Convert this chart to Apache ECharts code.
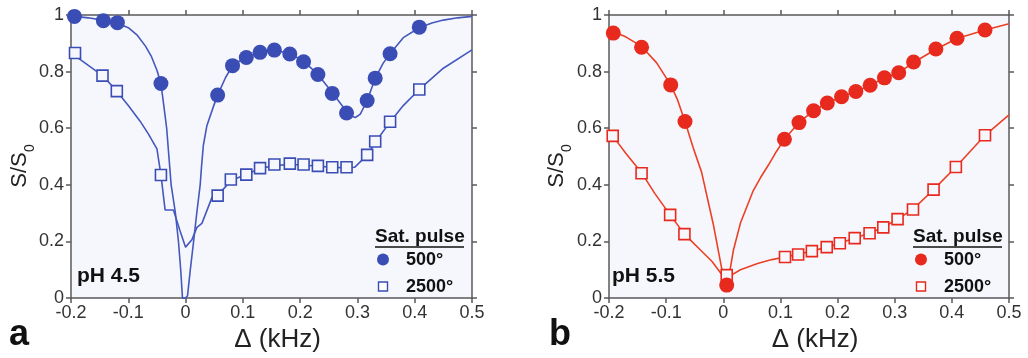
<!DOCTYPE html>
<html>
<head>
<meta charset="utf-8">
<script src="https://cdn.jsdelivr.net/npm/echarts@6/dist/echarts.min.js"></script>
<style>
html,body{margin:0;padding:0;background:#ffffff;}
#chart{width:1028px;height:358px;}
</style>
</head>
<body>
<div id="chart"></div>
<script>
// ---- Axis settings / tick labels ----
const xRange = [-0.2, 0.5];
const xStep = 0.1;
const yRange = [0, 1];
const yStep = 0.2;

// ---- Panel a: pH 4.5 ----
const a500Points = [[-0.194,0.995],[-0.1435,0.98],[-0.119,0.973],[-0.043,0.758],[0.056,0.717],[0.082,0.821],[0.106,0.850],[0.130,0.868],[0.155,0.876],[0.182,0.862],[0.206,0.835],[0.231,0.790],[0.256,0.723],[0.281,0.654],[0.317,0.698],[0.331,0.777],[0.357,0.863],[0.408,0.957]];
const a2500Points = [[-0.193,0.866],[-0.145,0.786],[-0.12,0.731],[-0.043,0.435],[0.056,0.362],[0.079,0.419],[0.106,0.436],[0.130,0.459],[0.155,0.472],[0.182,0.475],[0.206,0.472],[0.231,0.467],[0.256,0.462],[0.281,0.462],[0.317,0.506],[0.331,0.553],[0.357,0.623],[0.408,0.737]];
const a500Fit = [[-0.2,0.997],[-0.17,0.99],[-0.145,0.982],[-0.12,0.972],[-0.1,0.955],[-0.085,0.93],[-0.07,0.89],[-0.06,0.855],[-0.05,0.805],[-0.043,0.758],[-0.038,0.68],[-0.033,0.6],[-0.0252,0.40],[-0.018,0.305],[-0.0124,0.2],[-0.0083,0.095],[-0.0054,0.0],[0.0,0.0],[0.0034,0.008],[0.008,0.095],[0.014,0.2],[0.0198,0.305],[0.0255,0.40],[0.028,0.469],[0.031,0.539],[0.0372,0.609],[0.049,0.679],[0.056,0.717],[0.07,0.78],[0.082,0.82],[0.095,0.838],[0.106,0.85],[0.13,0.868],[0.155,0.875],[0.18,0.866],[0.206,0.837],[0.231,0.79],[0.256,0.726],[0.28,0.662],[0.29,0.642],[0.2965,0.638],[0.305,0.65],[0.317,0.698],[0.331,0.776],[0.345,0.83],[0.357,0.863],[0.38,0.92],[0.408,0.955],[0.43,0.972],[0.45,0.982],[0.475,0.99],[0.5,0.995]];
const a2500Fit = [[-0.2,0.866],[-0.145,0.786],[-0.12,0.731],[-0.1,0.68],[-0.0794,0.625],[-0.065,0.58],[-0.05,0.527],[-0.043,0.435],[-0.0357,0.311],[-0.0212,0.311],[-0.01,0.24],[0.0,0.18],[0.011,0.206],[0.0198,0.25],[0.0285,0.264],[0.046,0.355],[0.056,0.362],[0.079,0.415],[0.106,0.437],[0.13,0.458],[0.155,0.468],[0.18,0.472],[0.206,0.47],[0.231,0.466],[0.256,0.462],[0.281,0.46],[0.295,0.462],[0.317,0.505],[0.331,0.55],[0.357,0.622],[0.38,0.68],[0.408,0.737],[0.45,0.812],[0.5,0.877]];

// ---- Panel b: pH 5.5 ----
const b500Points = [[-0.1925,0.936],[-0.143,0.886],[-0.092,0.753],[-0.067,0.624],[0.006,0.046],[0.107,0.561],[0.1325,0.620],[0.158,0.662],[0.182,0.689],[0.207,0.711],[0.232,0.730],[0.257,0.752],[0.282,0.778],[0.307,0.796],[0.333,0.834],[0.372,0.880],[0.409,0.918],[0.458,0.947]];
const b2500Points = [[-0.1935,0.573],[-0.143,0.441],[-0.093,0.294],[-0.068,0.226],[0.006,0.081],[0.108,0.145],[0.131,0.154],[0.155,0.166],[0.181,0.18],[0.204,0.194],[0.23,0.212],[0.256,0.229],[0.28,0.25],[0.305,0.279],[0.332,0.313],[0.368,0.383],[0.407,0.463],[0.458,0.575]];
const b500Fit = [[-0.2,0.948],[-0.1925,0.942],[-0.17,0.922],[-0.143,0.889],[-0.1166,0.831],[-0.092,0.753],[-0.08,0.70],[-0.067,0.624],[-0.0525,0.53],[-0.038,0.445],[-0.0175,0.261],[0.0,0.075],[0.004,0.042],[0.008,0.055],[0.0176,0.168],[0.03,0.265],[0.0525,0.38],[0.065,0.425],[0.079,0.47],[0.093,0.518],[0.107,0.561],[0.1325,0.620],[0.158,0.662],[0.182,0.689],[0.207,0.711],[0.232,0.730],[0.257,0.752],[0.282,0.777],[0.307,0.797],[0.333,0.832],[0.372,0.879],[0.409,0.917],[0.458,0.947],[0.5,0.969]];
const b2500Fit = [[-0.2,0.578],[-0.1935,0.573],[-0.17,0.51],[-0.143,0.443],[-0.12,0.37],[-0.093,0.294],[-0.068,0.226],[-0.04,0.17],[-0.02,0.13],[0.003,0.068],[0.006,0.075],[0.03,0.1],[0.06,0.122],[0.085,0.136],[0.108,0.145],[0.131,0.155],[0.155,0.166],[0.181,0.18],[0.204,0.194],[0.23,0.212],[0.256,0.229],[0.28,0.25],[0.305,0.279],[0.332,0.314],[0.368,0.383],[0.407,0.463],[0.458,0.575],[0.5,0.647]];

const legendTitle = 'Sat. pulse';
const legendNames = ['500°', '2500°'];
const panelLabels = ['a', 'b'];
const phLabels = ['pH 4.5', 'pH 5.5'];

const BLUE = '#3a4db5';
const BLUE_LINE = '#4558bd';
const RED = '#e8291d';
const RED_LINE = '#ec4026';
const AXIS = '#5a5a5a';
const FONT = 'Liberation Sans';
const PLOT_BG = '#f6f7fc';

const chart = echarts.init(document.getElementById('chart'), null, {renderer: 'canvas'});

function xAxisDef(grid, pos, showLabel) {
  return {
    gridIndex: grid, type: 'value', position: pos,
    min: xRange[0], max: xRange[1], interval: xStep,
    axisLine: {show: true, onZero: false, lineStyle: {color: AXIS, width: 1.5}},
    axisTick: {show: true, inside: false, length: 5, lineStyle: {color: AXIS, width: 1.5}},
    axisLabel: {show: showLabel, fontSize: 18, color: '#333', margin: 6, fontFamily: FONT},
    splitLine: {show: false},
    name: showLabel ? 'Δ (kHz)' : '',
    nameLocation: 'middle', nameGap: 24,
    nameTextStyle: {fontSize: 26, color: '#222', fontFamily: FONT, padding: [0, 0, 0, 12]}
  };
}
function yAxisDef(grid, pos, showLabel) {
  return {
    gridIndex: grid, type: 'value', position: pos,
    min: yRange[0], max: yRange[1], interval: yStep,
    axisLine: {show: true, onZero: false, lineStyle: {color: AXIS, width: 1.5}},
    axisTick: {show: true, inside: false, length: 5, lineStyle: {color: AXIS, width: 1.5}},
    axisLabel: {show: showLabel, fontSize: 18, color: '#333', margin: 7, fontFamily: FONT},
    splitLine: {show: false}
  };
}
function fitSeries(name, data, xi, yi, color) {
  return {name: name, type: 'line', xAxisIndex: xi, yAxisIndex: yi, data: data,
    showSymbol: false, symbol: 'none', smooth: false,
    lineStyle: {color: color, width: 1.6}, z: 2, silent: true};
}
function dotSeries(name, data, xi, yi, color) {
  return {name: name, type: 'scatter', xAxisIndex: xi, yAxisIndex: yi, data: data,
    symbol: 'circle', symbolSize: 15, itemStyle: {color: color, opacity: 1}, z: 4};
}
function squareSeries(name, data, xi, yi, color) {
  return {name: name, type: 'scatter', xAxisIndex: xi, yAxisIndex: yi, data: data,
    symbol: 'rect', symbolSize: 11, itemStyle: {color: PLOT_BG, borderColor: color, borderWidth: 1.6, opacity: 1}, z: 3};
}

function ylabel(x, y) {
  return {type: 'group', x: x, y: y, rotation: Math.PI / 2, children: [
    {type: 'text', x: 0, y: 0, style: {text: 'S/S', fontSize: 22, fontFamily: FONT, fill: '#222', textAlign: 'center', textVerticalAlign: 'middle'}},
    {type: 'text', x: 18, y: 10, style: {text: '0', fontSize: 14, fontFamily: FONT, fill: '#222', textAlign: 'left', textVerticalAlign: 'middle'}}
  ]};
}
function legendGroup(x0, color) {
  return [
    {type: 'text', x: x0, y: 237, style: {text: legendTitle, fontSize: 19, fontWeight: 'bold', fontFamily: FONT, fill: '#111', textAlign: 'left', textVerticalAlign: 'middle'}},
    {type: 'line', shape: {x1: x0, y1: 247, x2: x0 + 89, y2: 247}, style: {stroke: '#111', lineWidth: 1.5}},
    {type: 'circle', shape: {cx: x0 + 8, cy: 259.5, r: 6}, style: {fill: color}},
    {type: 'text', x: x0 + 31, y: 260, style: {text: legendNames[0], fontSize: 18, fontWeight: 'bold', fontFamily: FONT, fill: '#111', textAlign: 'left', textVerticalAlign: 'middle'}},
    {type: 'rect', shape: {x: x0 + 3.5, y: 282, width: 9, height: 9}, style: {fill: '#ffffff', stroke: color, lineWidth: 1.4}},
    {type: 'text', x: x0 + 31, y: 287, style: {text: legendNames[1], fontSize: 18, fontWeight: 'bold', fontFamily: FONT, fill: '#111', textAlign: 'left', textVerticalAlign: 'middle'}}
  ];
}

const option = {
  backgroundColor: '#ffffff',
  animation: false,
  grid: [
    {left: 71, right: 556, top: 15, bottom: 57.5, show: true, backgroundColor: PLOT_BG, borderWidth: 0},
    {left: 609, right: 19, top: 15, bottom: 56.5, show: true, backgroundColor: PLOT_BG, borderWidth: 0}
  ],
  xAxis: [xAxisDef(0, 'bottom', true), xAxisDef(0, 'top', false), xAxisDef(1, 'bottom', true), xAxisDef(1, 'top', false)],
  yAxis: [yAxisDef(0, 'left', true), yAxisDef(0, 'right', false), yAxisDef(1, 'left', true), yAxisDef(1, 'right', false)],
  series: [
    fitSeries('fit 500 a', a500Fit, 0, 0, BLUE_LINE),
    fitSeries('fit 2500 a', a2500Fit, 0, 0, BLUE_LINE),
    squareSeries('2500° a', a2500Points, 0, 0, BLUE),
    dotSeries('500° a', a500Points, 0, 0, BLUE),
    fitSeries('fit 500 b', b500Fit, 2, 2, RED_LINE),
    fitSeries('fit 2500 b', b2500Fit, 2, 2, RED_LINE),
    squareSeries('2500° b', b2500Points, 2, 2, RED),
    dotSeries('500° b', b500Points, 2, 2, RED)
  ],
  graphic: [].concat(
    [ylabel(20, 170), ylabel(557, 170)],
    legendGroup(375, BLUE),
    legendGroup(913, RED),
    [
      {type: 'text', x: 77, y: 276, style: {text: phLabels[0], fontSize: 21, fontWeight: 'bold', fontFamily: FONT, fill: '#111', textAlign: 'left', textVerticalAlign: 'middle'}},
      {type: 'text', x: 612, y: 276, style: {text: phLabels[1], fontSize: 21, fontWeight: 'bold', fontFamily: FONT, fill: '#111', textAlign: 'left', textVerticalAlign: 'middle'}},
      {type: 'text', x: 9, y: 353, style: {text: panelLabels[0], fontSize: 36, fontWeight: 'bold', fontFamily: FONT, fill: '#111', textAlign: 'left', textVerticalAlign: 'bottom'}},
      {type: 'text', x: 549, y: 353, style: {text: panelLabels[1], fontSize: 36, fontWeight: 'bold', fontFamily: FONT, fill: '#111', textAlign: 'left', textVerticalAlign: 'bottom'}}
    ]
  )
};
chart.setOption(option);
</script>
</body>
</html>
